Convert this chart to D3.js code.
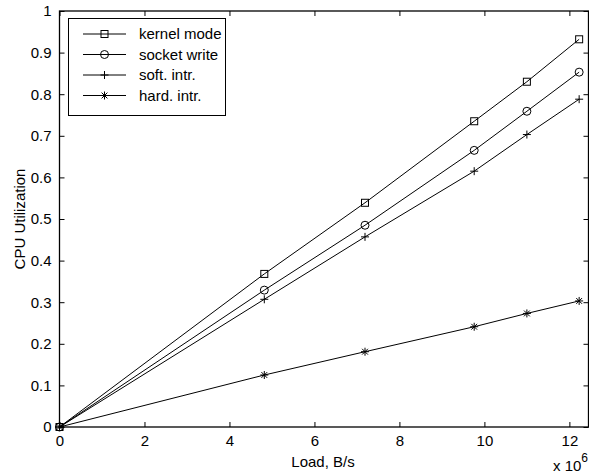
<!DOCTYPE html>
<html>
<head>
<meta charset="utf-8">
<script src="https://cdn.jsdelivr.net/npm/d3@7"></script>
<style>
  body { margin: 0; background: #fff; }
  text { font-family: "Liberation Sans", Arial, sans-serif; fill: #000; }
</style>
</head>
<body>
<script>
const w = 589;
const h = 475;

// load in units of 1e6 B/s
const loads = [0, 4.82, 7.19, 9.76, 11.0, 12.23];
const kernelMode = [0, 0.368, 0.539, 0.735, 0.830, 0.932];
const socketWrite = [0, 0.329, 0.485, 0.665, 0.759, 0.853];
const softIntr = [0, 0.307, 0.457, 0.615, 0.703, 0.788];
const hardIntr = [0, 0.125, 0.181, 0.241, 0.273, 0.303];
const seriesNames = ["kernel mode", "socket write", "soft. intr.", "hard. intr."];
const seriesMarkers = ["square", "circle", "plus", "star"];
const xTicks = [0, 2, 4, 6, 8, 10, 12];
const yTicks = [0, 0.1, 0.2, 0.3, 0.4, 0.5, 0.6, 0.7, 0.8, 0.9, 1];

const series = [kernelMode, socketWrite, softIntr, hardIntr].map((vals, i) => ({
  name: seriesNames[i],
  marker: seriesMarkers[i],
  points: vals.map((v, j) => [loads[j], v])
}));

const padL = 59.5, padR = 588.5, padT = 11, padB = 427;
const fs = 15;

const x = d3.scaleLinear().domain([0, 12.45]).range([padL, padR]);
const y = d3.scaleLinear().domain([0, 1]).range([padB, padT]);

const svg = d3.select("body").append("svg")
  .attr("width", w)
  .attr("height", h);

// axes box
svg.append("rect")
  .attr("x", padL).attr("y", padT)
  .attr("width", padR - padL).attr("height", padB - padT)
  .attr("fill", "none").attr("stroke", "#000").attr("stroke-width", 1.3);

const fmtY = d => d === 0 ? "0" : d === 1 ? "1" : d3.format(".1f")(d);

svg.append("g")
  .attr("transform", "translate(0," + padB + ")")
  .call(d3.axisBottom(x).tickValues(xTicks).tickSizeInner(-5).tickSizeOuter(0).tickPadding(8))
  .call(g => g.select(".domain").remove())
  .call(g => g.selectAll("text").attr("font-size", fs).attr("font-family", "Liberation Sans, Arial, sans-serif"));

svg.append("g")
  .attr("transform", "translate(0," + padT + ")")
  .call(d3.axisTop(x).tickValues(xTicks).tickSizeInner(-5).tickSizeOuter(0).tickFormat(""))
  .call(g => g.select(".domain").remove());

svg.append("g")
  .attr("transform", "translate(" + padL + ",0)")
  .call(d3.axisLeft(y).tickValues(yTicks).tickSizeInner(-5).tickSizeOuter(0).tickPadding(8).tickFormat(fmtY))
  .call(g => g.select(".domain").remove())
  .call(g => g.selectAll("text").attr("font-size", fs).attr("font-family", "Liberation Sans, Arial, sans-serif"));

svg.append("g")
  .attr("transform", "translate(" + padR + ",0)")
  .call(d3.axisRight(y).tickValues(yTicks).tickSizeInner(-5).tickSizeOuter(0).tickFormat(""))
  .call(g => g.select(".domain").remove());

// axis labels
svg.append("text")
  .attr("x", (padL + padR) / 2 - 1).attr("y", 467)
  .attr("text-anchor", "middle").attr("font-size", fs)
  .text("Load, B/s");

svg.append("text")
  .attr("transform", "translate(25," + ((padT + padB) / 2) + ") rotate(-90)")
  .attr("text-anchor", "middle").attr("font-size", fs)
  .text("CPU Utilization");

const exp = svg.append("text").attr("x", 553).attr("y", 471).attr("font-size", fs);
exp.append("tspan").text("x 10");
exp.append("tspan").attr("dy", -9).attr("font-size", 12).text("6");

// markers
function drawMarker(g, type, cx, cy) {
  const s = 3.5;
  if (type === "square") {
    g.append("rect").attr("x", cx - s).attr("y", cy - s).attr("width", 2 * s).attr("height", 2 * s)
      .attr("fill", "none").attr("stroke", "#000");
  } else if (type === "circle") {
    g.append("circle").attr("cx", cx).attr("cy", cy).attr("r", 4)
      .attr("fill", "none").attr("stroke", "#000");
  } else if (type === "plus") {
    g.append("path").attr("d", `M${cx - 4},${cy}H${cx + 4}M${cx},${cy - 4}V${cy + 4}`)
      .attr("stroke", "#000");
  } else {
    const r = 4, d = 2.9;
    g.append("path").attr("d",
      `M${cx - r},${cy}H${cx + r}M${cx},${cy - r}V${cy + r}M${cx - d},${cy - d}L${cx + d},${cy + d}M${cx - d},${cy + d}L${cx + d},${cy - d}`)
      .attr("stroke", "#000");
  }
}

const line = d3.line().x(d => x(d[0])).y(d => y(d[1]));

series.forEach(s => {
  svg.append("path")
    .datum(s.points)
    .attr("d", line)
    .attr("fill", "none")
    .attr("stroke", "#000")
    .attr("stroke-width", 1);
  const mg = svg.append("g");
  s.points.forEach(p => drawMarker(mg, s.marker, x(p[0]), y(p[1])));
});

// legend
const lg = svg.append("g");
lg.append("rect")
  .attr("x", 68.5).attr("y", 18.5).attr("width", 157).attr("height", 97)
  .attr("fill", "#fff").attr("stroke", "#000");

series.forEach((s, i) => {
  const ly = 34 + i * 20.5;
  lg.append("line").attr("x1", 83).attr("x2", 126).attr("y1", ly).attr("y2", ly).attr("stroke", "#000");
  drawMarker(lg, s.marker, 104.5, ly);
  lg.append("text").attr("x", 139).attr("y", ly + 5).attr("font-size", fs).text(s.name);
});
</script>
</body>
</html>
